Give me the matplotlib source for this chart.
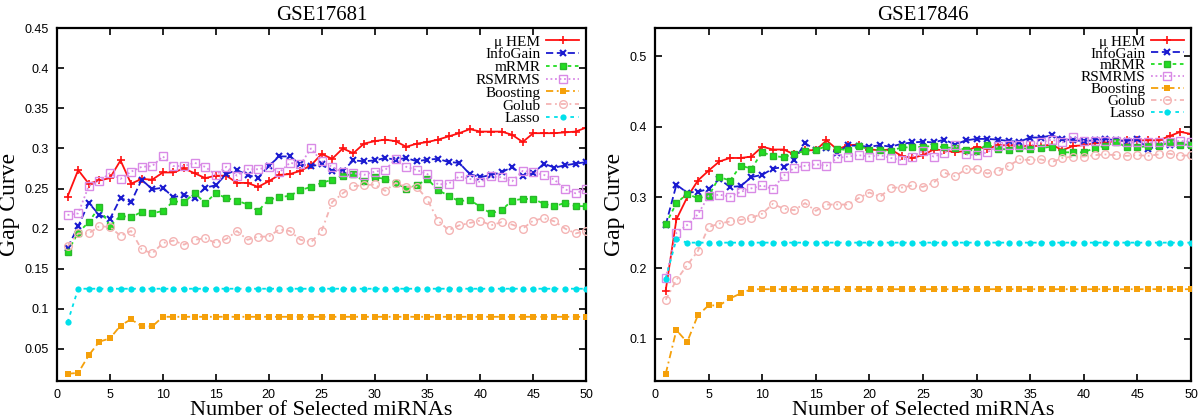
"""
Gap curve comparison for two miRNA datasets (gnuplot-like look).
"""
import matplotlib
matplotlib.use('Agg')
import matplotlib.pyplot as plt
from matplotlib.ticker import FuncFormatter

X = list(range(1, 51))

# ---- GSE17681 ----
L_HEM = [0.240, 0.273, 0.256, 0.260, 0.263, 0.285, 0.256, 0.262, 0.261, 0.270,
         0.270, 0.275, 0.269, 0.263, 0.266, 0.266, 0.257, 0.257, 0.252, 0.259,
         0.267, 0.268, 0.272, 0.279, 0.293, 0.287, 0.300, 0.294, 0.306, 0.309,
         0.311, 0.309, 0.302, 0.306, 0.308, 0.311, 0.315, 0.319, 0.324, 0.321,
         0.321, 0.321, 0.317, 0.308, 0.319, 0.319, 0.319, 0.320, 0.321, 0.326]
L_INFOGAIN = [0.176, 0.203, 0.232, 0.217, 0.212, 0.238, 0.233, 0.261, 0.249, 0.251,
              0.239, 0.242, 0.238, 0.251, 0.254, 0.268, 0.273, 0.267, 0.263, 0.278,
              0.290, 0.290, 0.280, 0.278, 0.280, 0.272, 0.272, 0.285, 0.284, 0.285,
              0.288, 0.286, 0.288, 0.284, 0.286, 0.287, 0.283, 0.282, 0.268, 0.264,
              0.267, 0.270, 0.277, 0.266, 0.269, 0.281, 0.276, 0.279, 0.281, 0.283]
L_MRMR = [0.171, 0.195, 0.208, 0.227, 0.203, 0.216, 0.214, 0.221, 0.219, 0.222,
          0.234, 0.233, 0.244, 0.232, 0.244, 0.238, 0.235, 0.230, 0.222, 0.236,
          0.239, 0.241, 0.248, 0.252, 0.257, 0.261, 0.266, 0.268, 0.259, 0.264,
          0.262, 0.257, 0.250, 0.254, 0.262, 0.248, 0.241, 0.234, 0.236, 0.227,
          0.219, 0.223, 0.235, 0.237, 0.237, 0.231, 0.228, 0.232, 0.228, 0.228]
L_RSMRMS = [0.217, 0.219, 0.253, 0.259, 0.269, 0.262, 0.271, 0.277, 0.278, 0.290,
            0.278, 0.278, 0.282, 0.277, 0.267, 0.277, 0.266, 0.274, 0.274, 0.277,
            0.270, 0.282, 0.280, 0.300, 0.284, 0.277, 0.270, 0.269, 0.267, 0.271,
            0.273, 0.287, 0.277, 0.273, 0.268, 0.255, 0.256, 0.265, 0.262, 0.258,
            0.265, 0.264, 0.259, 0.272, 0.270, 0.267, 0.261, 0.249, 0.244, 0.249]
L_BOOSTING = [0.019, 0.020, 0.042, 0.059, 0.063, 0.079, 0.087, 0.078, 0.078, 0.090,
              0.090, 0.090, 0.090, 0.090, 0.090, 0.090, 0.090, 0.090, 0.090, 0.090,
              0.090, 0.090, 0.090, 0.090, 0.090, 0.090, 0.090, 0.090, 0.090, 0.090,
              0.090, 0.090, 0.090, 0.090, 0.090, 0.090, 0.090, 0.090, 0.090, 0.090,
              0.090, 0.090, 0.090, 0.090, 0.090, 0.090, 0.090, 0.090, 0.090, 0.090]
L_GOLUB = [0.178, 0.194, 0.194, 0.203, 0.202, 0.191, 0.197, 0.174, 0.169, 0.182,
           0.185, 0.180, 0.186, 0.188, 0.182, 0.187, 0.197, 0.186, 0.190, 0.190,
           0.199, 0.197, 0.186, 0.183, 0.197, 0.233, 0.244, 0.253, 0.254, 0.255,
           0.247, 0.257, 0.252, 0.252, 0.236, 0.210, 0.198, 0.204, 0.207, 0.210,
           0.204, 0.208, 0.205, 0.200, 0.210, 0.213, 0.209, 0.200, 0.194, 0.197]
L_LASSO = [0.083, 0.125, 0.125, 0.125, 0.125, 0.125, 0.125, 0.125, 0.125, 0.125,
           0.125, 0.125, 0.125, 0.125, 0.125, 0.125, 0.125, 0.125, 0.125, 0.125,
           0.125, 0.125, 0.125, 0.125, 0.125, 0.125, 0.125, 0.125, 0.125, 0.125,
           0.125, 0.125, 0.125, 0.125, 0.125, 0.125, 0.125, 0.125, 0.125, 0.125,
           0.125, 0.125, 0.125, 0.125, 0.125, 0.125, 0.125, 0.125, 0.125, 0.125]

# ---- GSE17846 ----
R_HEM = [0.168, 0.269, 0.300, 0.324, 0.338, 0.351, 0.356, 0.356, 0.358, 0.372,
         0.368, 0.368, 0.361, 0.367, 0.367, 0.381, 0.368, 0.374, 0.375, 0.368,
         0.367, 0.368, 0.359, 0.356, 0.360, 0.368, 0.367, 0.364, 0.366, 0.372,
         0.369, 0.374, 0.374, 0.373, 0.373, 0.373, 0.375, 0.367, 0.373, 0.374,
         0.377, 0.378, 0.380, 0.381, 0.381, 0.381, 0.381, 0.387, 0.393, 0.390]
R_INFOGAIN = [0.261, 0.318, 0.307, 0.308, 0.312, 0.326, 0.315, 0.316, 0.329, 0.332,
              0.341, 0.343, 0.353, 0.377, 0.367, 0.370, 0.363, 0.374, 0.373, 0.372,
              0.374, 0.372, 0.376, 0.378, 0.379, 0.378, 0.382, 0.375, 0.381, 0.383,
              0.383, 0.382, 0.380, 0.379, 0.385, 0.385, 0.388, 0.383, 0.381, 0.380,
              0.381, 0.383, 0.381, 0.380, 0.383, 0.369, 0.373, 0.375, 0.374, 0.375]
R_MRMR = [0.262, 0.292, 0.305, 0.299, 0.302, 0.329, 0.324, 0.345, 0.341, 0.364,
          0.359, 0.357, 0.362, 0.366, 0.367, 0.373, 0.369, 0.367, 0.373, 0.368,
          0.367, 0.366, 0.371, 0.371, 0.372, 0.373, 0.371, 0.370, 0.368, 0.366,
          0.375, 0.369, 0.368, 0.370, 0.369, 0.370, 0.372, 0.364, 0.364, 0.364,
          0.370, 0.373, 0.379, 0.371, 0.371, 0.373, 0.373, 0.378, 0.375, 0.375]
R_RSMRMS = [0.186, 0.250, 0.261, 0.276, 0.302, 0.304, 0.301, 0.308, 0.313, 0.317,
            0.312, 0.331, 0.342, 0.345, 0.347, 0.345, 0.356, 0.358, 0.360, 0.358,
            0.360, 0.356, 0.353, 0.358, 0.366, 0.358, 0.363, 0.374, 0.361, 0.360,
            0.364, 0.373, 0.375, 0.374, 0.374, 0.378, 0.382, 0.378, 0.386, 0.380,
            0.380, 0.380, 0.380, 0.378, 0.378, 0.378, 0.378, 0.379, 0.380, 0.379]
R_BOOSTING = [0.050, 0.112, 0.095, 0.133, 0.147, 0.147, 0.157, 0.164, 0.170, 0.170,
              0.170, 0.170, 0.170, 0.170, 0.170, 0.170, 0.170, 0.170, 0.170, 0.170,
              0.170, 0.170, 0.170, 0.170, 0.170, 0.170, 0.170, 0.170, 0.170, 0.170,
              0.170, 0.170, 0.170, 0.170, 0.170, 0.170, 0.170, 0.170, 0.170, 0.170,
              0.170, 0.170, 0.170, 0.170, 0.170, 0.170, 0.170, 0.170, 0.170, 0.170]
R_GOLUB = [0.155, 0.183, 0.204, 0.224, 0.258, 0.263, 0.266, 0.268, 0.271, 0.277,
           0.291, 0.284, 0.282, 0.292, 0.281, 0.290, 0.290, 0.290, 0.299, 0.307,
           0.301, 0.314, 0.314, 0.317, 0.315, 0.321, 0.335, 0.330, 0.340, 0.340,
           0.334, 0.337, 0.345, 0.354, 0.353, 0.354, 0.350, 0.356, 0.358, 0.358,
           0.360, 0.361, 0.360, 0.359, 0.360, 0.359, 0.361, 0.362, 0.359, 0.360]
R_LASSO = [0.185, 0.241, 0.236, 0.236, 0.236, 0.236, 0.236, 0.236, 0.236, 0.236,
           0.236, 0.236, 0.236, 0.236, 0.236, 0.236, 0.236, 0.236, 0.236, 0.236,
           0.236, 0.236, 0.236, 0.236, 0.236, 0.236, 0.236, 0.236, 0.236, 0.236,
           0.236, 0.236, 0.236, 0.236, 0.236, 0.236, 0.236, 0.236, 0.236, 0.236,
           0.236, 0.236, 0.236, 0.236, 0.236, 0.236, 0.236, 0.236, 0.236, 0.236]

LABELS = ['\u03bc HEM', 'InfoGain', 'mRMR', 'RSMRMS', 'Boosting', 'Golub', 'Lasso']

STYLES = [
    dict(color='#ff1010', ls='-', marker='+', ms=6, mew=1.2),
    dict(color='#1a1ad0', ls=(0, (4, 2)), marker='x', ms=5, mew=1.5),
    dict(color='#22dd22', ls=(0, (2, 2)), marker='s', ms=4.5, mew=1.0, mec='#2bb82b'),
    dict(color='#d98ae6', ls=(0, (1, 1.5)), marker='s', ms=5.5, mfc='none', mew=1.0),
    dict(color='#f5a00a', ls=(0, (4, 2, 1, 2)), marker='s', ms=4.5, mew=0),
    dict(color='#f4b4b4', ls=(0, (3, 2, 1, 2)), marker='o', ms=5.5, mfc='none', mew=1.0),
    dict(color='#00e0ea', ls=(0, (2, 2.5)), marker='o', ms=4.5, mew=0),
]

LEFT = [L_HEM, L_INFOGAIN, L_MRMR, L_RSMRMS, L_BOOSTING, L_GOLUB, L_LASSO]
RIGHT = [R_HEM, R_INFOGAIN, R_MRMR, R_RSMRMS, R_BOOSTING, R_GOLUB, R_LASSO]

SERIF = 'Liberation Serif'
SANS = 'Liberation Sans'


def draw_panel(ax, series, title, ylim, yticks, leg_spacing):
    for i, (vals, lab, st) in enumerate(zip(series, LABELS, STYLES)):
        ax.plot(X, vals, label=lab, lw=1.3, zorder=2 + i, **st)

    ax.set_xlim(0, 50)
    ax.set_ylim(*ylim)
    ax.set_xticks(range(0, 51, 5))
    ax.set_yticks(yticks)
    ax.yaxis.set_major_formatter(FuncFormatter(lambda v, p: '%g' % round(v, 3)))
    ax.tick_params(direction='in', length=5, width=1.2, top=True, right=True,
                   labelsize=9, pad=6)
    for lab in ax.get_xticklabels() + ax.get_yticklabels():
        lab.set_fontfamily(SANS)
    for sp in ax.spines.values():
        sp.set_linewidth(1.6)

    ax.set_title(title, fontsize=15, fontfamily=SERIF, pad=6)
    ax.set_xlabel('Number of Selected miRNAs', fontsize=16, fontfamily=SERIF, labelpad=0)
    ax.set_ylabel('Gap Curve', fontsize=17, fontfamily=SERIF, labelpad=3)

    leg = ax.legend(loc='upper right', markerfirst=False, frameon=False,
                    prop={'family': SERIF, 'size': 11}, handlelength=2.2,
                    handletextpad=0.35, labelspacing=leg_spacing,
                    borderaxespad=0.3, borderpad=0.15)
    return leg


fig = plt.figure(figsize=(12, 4.2), dpi=100)
ax1 = fig.add_axes([0.0475, 0.093, 0.441, 0.840])
ax2 = fig.add_axes([0.5458, 0.093, 0.4467, 0.840])

draw_panel(ax1, LEFT, 'GSE17681', (0.01, 0.45),
           [0.05, 0.1, 0.15, 0.2, 0.25, 0.3, 0.35, 0.4, 0.45], -0.06)
draw_panel(ax2, RIGHT, 'GSE17846', (0.04, 0.54),
           [0.1, 0.2, 0.3, 0.4, 0.5], -0.12)

fig.savefig('out.png', dpi=100)
print('Saved: out.png')
